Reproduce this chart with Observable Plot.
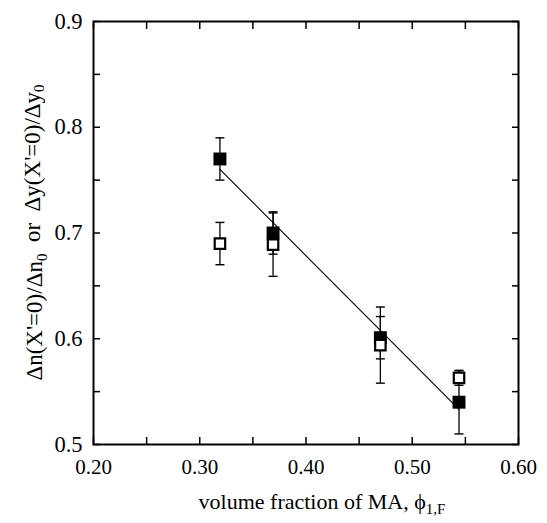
<!DOCTYPE html>
<html><head><meta charset="utf-8">
<script src="https://cdn.jsdelivr.net/npm/d3@7"></script>
<script src="https://cdn.jsdelivr.net/npm/@observablehq/plot@0.6"></script>
<style>body{margin:0;background:#fff} svg{display:block} svg text{font-family:'Liberation Serif','Times New Roman',serif}</style>
</head><body><div id="chart"></div>
<script>
// data
const phi = [0.319, 0.369, 0.470, 0.544];
const filledY = [0.770, 0.700, 0.601, 0.540];
const filledErr = [0.020, 0.020, 0.020, 0.030];
const openY = [0.690, 0.689, 0.594, 0.563];
const openErr = [0.020, 0.030, 0.036, 0.007];
const xTicks = [0.20, 0.30, 0.40, 0.50, 0.60];
const xMinor = [0.20, 0.25, 0.30, 0.35, 0.40, 0.45, 0.50, 0.55, 0.60];
const yTicks = [0.5, 0.6, 0.7, 0.8, 0.9];
const yMinor = [0.5, 0.55, 0.6, 0.65, 0.7, 0.75, 0.8, 0.85, 0.9];

const filled = phi.map((x, i) => ({x, y: filledY[i], e: filledErr[i]}));
const open = phi.map((x, i) => ({x, y: openY[i], e: openErr[i]}));
const all = filled.concat(open);
const caps = all.flatMap(d => [{x: d.x, y: d.y + d.e}, {x: d.x, y: d.y - d.e}]);

const capSymbol = {
  draw(ctx, size) {
    const w = Math.sqrt(size / Math.PI);
    ctx.moveTo(-w, 0); ctx.lineTo(w, 0);
  }
};

const font = "'Liberation Serif', 'Times New Roman', serif";
const W = 547, H = 523;
const mL = 93, mR = 29, mT = 21, mB = 79;

const plot = Plot.plot({
  width: W, height: H,
  marginLeft: mL, marginRight: mR, marginTop: mT, marginBottom: mB,
  style: {fontFamily: font, fontSize: "22px", background: "white", color: "black"},
  x: {domain: [0.2, 0.6]},
  y: {domain: [0.5, 0.9]},
  marks: [
    Plot.axisX(xMinor, {anchor: "bottom", tickSize: -7, text: null, label: null, strokeWidth: 1.5}),
    Plot.axisX(xMinor, {anchor: "top", tickSize: -7, text: null, label: null, strokeWidth: 1.5}),
    Plot.axisY(yMinor, {anchor: "left", tickSize: -7, text: null, label: null, strokeWidth: 1.5}),
    Plot.axisY(yMinor, {anchor: "right", tickSize: -7, text: null, label: null, strokeWidth: 1.5}),
    Plot.axisX(xTicks, {anchor: "bottom", tickSize: 0, tickPadding: 15, tickFormat: d3.format(".2f"), fontSize: 21, label: null}),
    Plot.axisY(yTicks, {anchor: "left", tickSize: 0, tickPadding: 11, tickFormat: d3.format(".1f"), fontSize: 22.5, label: null}),
    Plot.frame({stroke: "black", strokeWidth: 2}),
    Plot.ruleX(all, {x: "x", y1: d => d.y - d.e, y2: d => d.y + d.e, stroke: "black", strokeWidth: 1.3}),
    Plot.dot(caps, {x: "x", y: "y", symbol: capSymbol, r: 4.5, stroke: "black", fill: "none", strokeWidth: 1.4}),
    Plot.linearRegressionY(filled, {x: "x", y: "y", ci: 0, stroke: "black", strokeWidth: 1.1}),
    Plot.dot(filled, {x: "x", y: "y", symbol: "square", r: 7.3, fill: "black", stroke: "none"}),
    Plot.dot(open, {x: "x", y: "y", symbol: "square", r: 5.9, fill: "white", stroke: "black", strokeWidth: 2.2})
  ]
});
document.getElementById("chart").appendChild(plot);

const svg = d3.select(plot);
// x axis title
const xt = svg.append("text")
  .attr("x", 322).attr("y", 509)
  .attr("text-anchor", "middle")
  .attr("font-size", 22).attr("fill", "black");
xt.append("tspan").text("volume fraction of MA, ϕ");
xt.append("tspan").attr("dy", "0.3em").attr("font-size", 15).text("1,F");

// y axis title
const yt = svg.append("text")
  .attr("transform", `translate(42,${(mT + H - mB) / 2}) rotate(-90)`)
  .attr("text-anchor", "middle")
  .attr("font-size", 23).attr("fill", "black")
  .style("white-space", "pre");
yt.append("tspan").text("Δn(X'=0)/Δn");
yt.append("tspan").attr("dy", "0.3em").attr("font-size", 15).text("0");
yt.append("tspan").attr("dy", "-0.3em").text("  or  Δy(X'=0)/Δy");
yt.append("tspan").attr("dy", "0.3em").attr("font-size", 15).text("0");
</script></body></html>
